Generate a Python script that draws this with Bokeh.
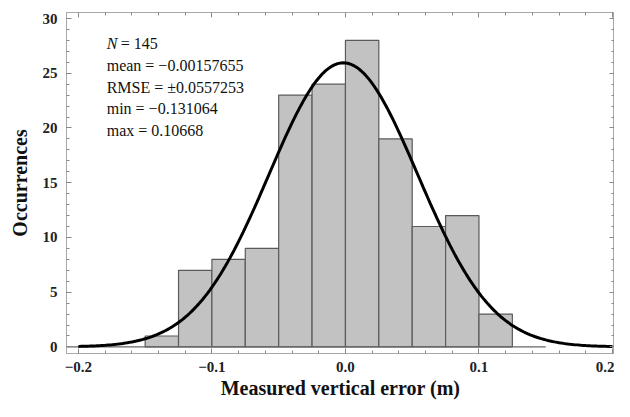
import numpy as np
from bokeh.plotting import figure
from bokeh.models import (Range1d, LinearAxis, SingleIntervalTicker, FixedTicker,
                          CustomJSTickFormatter, Label, ColumnDataSource)
from bokeh.embed import file_html
from bokeh.resources import INLINE

# ---- data ----
bin_left = [-0.15, -0.125, -0.1, -0.075, -0.05, -0.025, 0.0, 0.025, 0.05, 0.075, 0.1]
bin_right = [-0.125, -0.1, -0.075, -0.05, -0.025, 0.0, 0.025, 0.05, 0.075, 0.1, 0.125]
counts = [1, 7, 8, 9, 23, 24, 28, 19, 11, 12, 3]
n_total = 145
mean_err = -0.00157655
rmse = 0.0557253
bin_width = 0.025
curve_x = np.linspace(-0.2, 0.2, 241)
baseline_x = [-0.209, 0.15]
baseline_y = [0, 0]
stat_lines = ["mean = \u22120.00157655", "RMSE = \u00b10.0557253",
              "min = \u22120.131064", "max = 0.10668"]
x_ticks = [-0.2, -0.1, 0.0, 0.1, 0.2]

# fitted normal curve from the stated statistics
curve_y = (n_total * bin_width / (rmse * np.sqrt(2 * np.pi))
           * np.exp(-0.5 * ((curve_x - mean_err) / rmse) ** 2))

SERIF = "Liberation Serif"
FRAME = "#a8a8a8"

p = figure(width=614, height=401, x_range=Range1d(-0.2089, 0.2015),
           y_range=Range1d(-0.6, 30.55), output_backend="svg",
           toolbar_location=None, x_axis_type=None, y_axis_type=None,
           min_border_left=66, min_border_right=0, min_border_top=12,
           min_border_bottom=46)
p.grid.visible = False
p.outline_line_color = FRAME
p.background_fill_color = "white"
p.border_fill_color = "white"

fmt = CustomJSTickFormatter(code="""
    return (tick < -1e-9 ? '\u2212' : '') + Math.abs(tick).toFixed(1);
""")
blank = CustomJSTickFormatter(code="return '';")

def style(ax, labels=True):
    ax.axis_line_color = FRAME
    ax.major_tick_line_color = "#888888"
    ax.minor_tick_line_color = "#888888"
    ax.major_tick_in = 5
    ax.major_tick_out = 0
    ax.minor_tick_in = 3
    ax.minor_tick_out = 0
    ax.major_label_text_font = SERIF
    ax.major_label_text_font_style = "bold"
    ax.major_label_text_font_size = "15px"
    ax.major_label_text_color = "#222222"
    ax.axis_label_text_font = SERIF
    ax.axis_label_text_font_style = "bold"
    ax.axis_label_text_font_size = "20px"
    ax.axis_label_text_color = "#111111"
    if not labels:
        ax.major_label_text_font_size = "0px"
        ax.major_label_standoff = 0

xt = FixedTicker(ticks=x_ticks, minor_ticks=list(np.round(np.arange(-0.2, 0.2001, 0.02), 3)))
yt = SingleIntervalTicker(interval=5, num_minor_ticks=5)

xb = LinearAxis(ticker=xt, formatter=fmt, axis_label="Measured vertical error (m)")
style(xb)
xb.major_label_standoff = 8
xb.axis_label_standoff = 2
p.add_layout(xb, "below")

yl = LinearAxis(ticker=yt, axis_label="Occurrences")
style(yl)
yl.major_label_standoff = 9
yl.axis_label_standoff = 9
p.add_layout(yl, "left")

xa = LinearAxis(ticker=xt, formatter=blank)
style(xa, labels=False)
p.add_layout(xa, "above")

yr = LinearAxis(ticker=yt, formatter=blank)
style(yr, labels=False)
p.add_layout(yr, "right")

src = ColumnDataSource(dict(left=bin_left, right=bin_right, top=counts,
                            bottom=[0] * len(counts)))
p.quad(left="left", right="right", top="top", bottom="bottom", source=src,
       fill_color="#c2c2c2", line_color="#5a5a5a", line_width=1.2)

p.line(baseline_x, baseline_y, line_color="#666666", line_width=1.2)
p.line(curve_x, curve_y, line_color="black", line_width=3)

# annotation text
TXT = "16px"
TX, TY, DY = -0.1788, 27.74, 2.0
p.add_layout(Label(x=TX, y=TY, text="N", text_font=SERIF,
                   text_font_style="italic", text_font_size=TXT,
                   text_baseline="middle", text_color="#111111"))
p.add_layout(Label(x=TX, y=TY, x_offset=14, text="= 145", text_font=SERIF,
                   text_font_size=TXT, text_baseline="middle",
                   text_color="#111111"))
for i, s in enumerate(stat_lines):
    p.add_layout(Label(x=TX, y=TY - (i + 1) * DY, text=s, text_font=SERIF,
                       text_font_size=TXT, text_baseline="middle",
                       text_color="#111111"))

open("out.html", "w").write(file_html(p, INLINE))
